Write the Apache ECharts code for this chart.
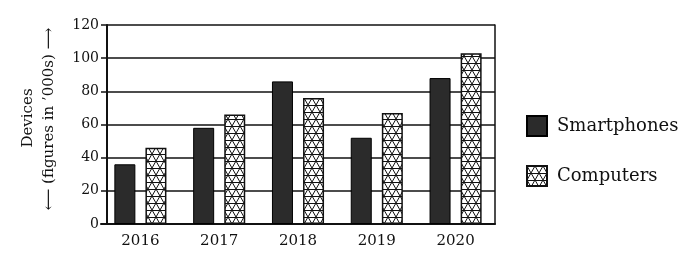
<!DOCTYPE html>
<html>
<head>
<meta charset="utf-8">
<script src="https://cdn.jsdelivr.net/npm/echarts@6/dist/echarts.min.js"></script>
<style>
html,body{margin:0;padding:0;background:#fff;}
#chart{width:683px;height:259px;}
</style>
</head>
<body>
<div id="chart"></div>
<script>
var years = ['2016', '2017', '2018', '2019', '2020'];
var smartphones = [36, 58, 86, 52, 88];
var computers = [46, 66, 76, 67, 103];
var yTicks = [0, 20, 40, 60, 80, 100, 120];
var seriesNames = ['Smartphones', 'Computers'];

// lattice pattern for Computers
function makePattern() {
  var c = document.createElement('canvas');
  c.width = 8; c.height = 14;
  var ctx = c.getContext('2d');
  ctx.fillStyle = '#fff';
  ctx.fillRect(0, 0, 8, 14);
  ctx.strokeStyle = '#111';
  ctx.lineWidth = 1;
  ctx.beginPath();
  [0, 7, 14].forEach(function (y) { ctx.moveTo(0, y + 0.5); ctx.lineTo(8, y + 0.5); });
  for (var k = -2; k <= 2; k++) {
    ctx.moveTo(8 * k - 8, -14); ctx.lineTo(8 * k + 16, 28);
    ctx.moveTo(8 * k + 8, -14); ctx.lineTo(8 * k - 16, 28);
  }
  ctx.stroke();
  return c;
}
var pattern = { image: makePattern(), repeat: 'repeat' };

var font = 'DejaVu Serif';
var chart = echarts.init(document.getElementById('chart'), null, { renderer: 'canvas' });
chart.setOption({
  animation: false,
  backgroundColor: '#fff',
  grid: { left: 101, right: 188, top: 25, bottom: 35 },
  legend: {
    orient: 'vertical', left: 521, top: 110,
    itemWidth: 20, itemHeight: 20, itemGap: 28,
    icon: 'rect',
    data: seriesNames,
    textStyle: { fontFamily: font, fontSize: 18, color: '#111', padding: [0, 0, 0, 5] }
  },
  xAxis: {
    type: 'category', data: years,
    axisLine: { lineStyle: { color: '#111', width: 2 } },
    axisTick: { show: false },
    axisLabel: { fontFamily: font, fontSize: 15, color: '#111', margin: 10 }
  },
  yAxis: [{
    type: 'value', min: yTicks[0], max: yTicks[yTicks.length - 1], interval: 20, offset: -6,
    axisLine: { show: true, lineStyle: { color: '#111', width: 2 } },
    axisTick: { show: false },
    axisLabel: { fontFamily: font, fontSize: 14, color: '#111', margin: 8 },
    splitLine: { lineStyle: { color: '#111', width: 1.5 } }
  }, {
    type: 'value', position: 'right', min: yTicks[0], max: yTicks[yTicks.length - 1], interval: 20,
    axisLine: { show: true, lineStyle: { color: '#111', width: 1.5 } },
    axisTick: { show: false }, axisLabel: { show: false }, splitLine: { show: false }
  }],
  graphic: [
    { type: 'text', x: 28, y: 118, rotation: Math.PI / 2,
      style: { text: 'Devices', fontFamily: font, fontSize: 15, fill: '#111', align: 'center', verticalAlign: 'middle' } },
    { type: 'text', x: 49, y: 119, rotation: Math.PI / 2,
      style: { text: '\u27F5 (figures in \u2019000s) \u27F6', fontFamily: font, fontSize: 15, fill: '#111', align: 'center', verticalAlign: 'middle' } }
  ],
  series: [{
    name: seriesNames[0], type: 'bar', data: smartphones,
    barWidth: 21, barGap: '48%',
    itemStyle: { color: '#2b2b2b', borderColor: '#000', borderWidth: 1 }
  }, {
    name: seriesNames[1], type: 'bar', data: computers,
    barWidth: 21,
    itemStyle: { color: pattern, borderColor: '#111', borderWidth: 1.5 }
  }]
});
</script>
</body>
</html>
